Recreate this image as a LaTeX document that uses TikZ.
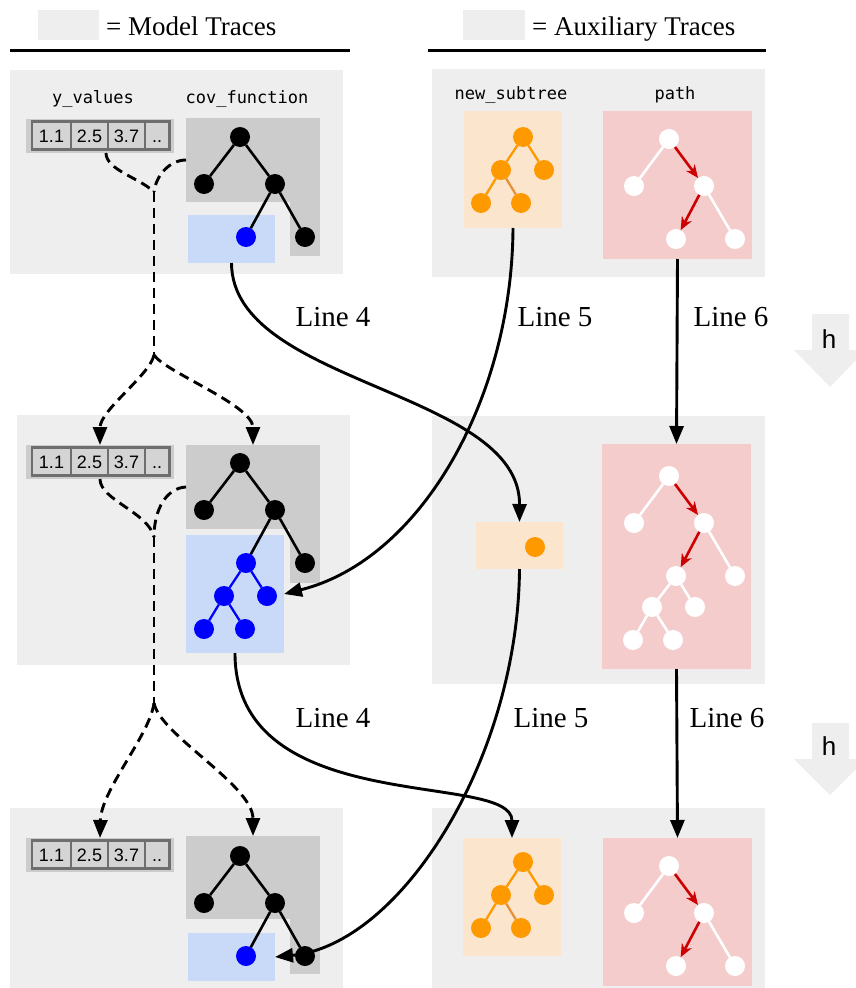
\documentclass[tikz,border=0pt]{standalone}
\usepackage{fontspec}
\setmainfont{Liberation Serif}
\newfontfamily\monof{DejaVu Sans Mono}
\newfontfamily\sansf{Liberation Sans}
\usetikzlibrary{arrows.meta}
\definecolor{panel}{HTML}{EEEEEE}
\definecolor{gbox}{HTML}{CCCCCC}
\definecolor{bbox}{HTML}{C9DAF8}
\definecolor{bnode}{HTML}{0000FF}
\definecolor{obox}{HTML}{FCE5CD}
\definecolor{onode}{HTML}{FF9900}
\definecolor{oedgetwo}{HTML}{E69138}
\definecolor{pbox}{HTML}{F4CCCC}
\definecolor{redarr}{HTML}{CC0000}
\definecolor{cellfill}{HTML}{D4D4D4}
\definecolor{cellline}{HTML}{6E6E6E}
\tikzset{
  rbox/.style={rectangle, inner sep=0pt, outer sep=0pt, anchor=north west, draw=none},
  dotn/.style={circle, inner sep=0pt, outer sep=0pt, minimum size=20pt},
  kdot/.style={dotn, fill=black},
  bdot/.style={dotn, fill=bnode},
  odot/.style={dotn, fill=onode},
  wdot/.style={dotn, fill=white},
  kedge/.style={black, line width=2.6pt},
  bedge/.style={bnode, line width=2.3pt},
  oedge/.style={onode, line width=2.3pt},
  oedgeb/.style={oedgetwo, line width=2.3pt},
  wedge/.style={white, line width=2.6pt},
  redge/.style={redarr, line width=2.6pt, -{Stealth[length=13pt,width=11pt,inset=4pt]}},
  flow/.style={black, line width=2.9pt, -{Triangle[length=18pt,width=14pt]}},
  dline/.style={black, line width=2.9pt, dash pattern=on 10pt off 6pt},
  dflow/.style={dline, -{Triangle[length=18pt,width=14pt]}},
  celltxt/.style={inner sep=0pt, anchor=base, font=\sansf\fontsize{18}{20}\selectfont},
  mono/.style={inner sep=0pt, anchor=base, font=\monof\fontsize{17}{20}\selectfont},
  lbl/.style={inner sep=0pt, anchor=base, font=\fontsize{29}{32}\selectfont},
  legtxt/.style={inner sep=0pt, anchor=base west, font=\fontsize{27}{30}\selectfont},
  htxt/.style={inner sep=0pt, anchor=base, font=\sansf\fontsize{26}{28}\selectfont},
}
\newcommand\yvals[2]{%
  \node[rbox, fill=gbox, minimum width=148pt, minimum height=34pt] (#1) at (26,#2) {};
  \begin{scope}[shift={(0,#2)}]
    \draw[cellline, fill=cellfill, line width=2.5pt] (32,2.5) rectangle (169.5,30.5);
    \draw[cellline, line width=2.5pt] (71,2.5)--(71,30.5) (108,2.5)--(108,30.5) (145,2.5)--(145,30.5);
    \node[celltxt] (#1a) at (51.5,23) {1.1};
    \node[celltxt] (#1b) at (89.5,23) {2.5};
    \node[celltxt] (#1c) at (126.5,23) {3.7};
    \node[celltxt] (#1d) at (157,23) {..};
  \end{scope}}
\newcommand\covtree[2]{%
  \begin{scope}[shift={(0,#2)}]
    \node[kdot] (#1r) at (240,137) {};
    \node[kdot] (#1l) at (204,184) {};
    \node[kdot] (#1R) at (275,184) {};
    \node[kdot] (#1RR) at (305,237) {};
    \node[bdot] (#1b) at (246,237) {};
  \end{scope}
  \draw[kedge] (#1r)--(#1l) (#1r)--(#1R) (#1R)--(#1RR) (#1R)--(#1b);}
\newcommand\otree[2]{%
  \begin{scope}[shift={(0,#2)}]
    \node[odot] (#1r) at (523,137) {};
    \node[odot] (#1l) at (501,170) {};
    \node[odot] (#1R) at (544,170) {};
    \node[odot] (#1ll) at (481,203) {};
    \node[odot] (#1lr) at (521,203) {};
  \end{scope}
  \draw[oedge] (#1r)--(#1l) (#1r)--(#1R) (#1l)--(#1ll);
  \draw[oedgeb] (#1l)--(#1lr);}
\newcommand\ptree[2]{%
  \begin{scope}[shift={(0,#2)}]
    \node[wdot] (#1r) at (669,139) {};
    \node[wdot] (#1l) at (634,186) {};
    \node[wdot] (#1R) at (704,186) {};
    \node[wdot] (#1Rl) at (676,239) {};
    \node[wdot] (#1RR) at (735,239) {};
  \end{scope}
  \draw[wedge] (#1r)--(#1l) (#1R)--(#1RR);
  \draw[redge] (#1r)--(#1R);
  \draw[redge] (#1R)--(#1Rl);}
\begin{document}
\begin{tikzpicture}[x=1pt, y=-1pt]
\useasboundingbox (0,0) rectangle (855,988);
% legend
\fill[panel] (38,10) rectangle (99,40);
\node[legtxt] (legA) at (106,35) {= Model Traces};
\draw[line width=3pt] (10,50) -- (350,50);
\fill[panel] (463,10) rectangle (525,40);
\node[legtxt] (legB) at (532,35) {= Auxiliary Traces};
\draw[line width=3pt] (428,50) -- (766,50);

% ---------- top left
\fill[panel] (10,70) rectangle (343,274);
\node[mono] (tyv) at (93,103) {y\_values};
\node[mono] (tcf) at (247,103) {cov\_function};
\yvals{yvA}{119}
\node[rbox, fill=gbox, minimum width=134pt, minimum height=84pt] (cgA) at (186,118) {};
\fill[gbox] (290,201) rectangle (320,256);
\node[rbox, fill=bbox, minimum width=87pt, minimum height=48pt] (bbA) at (188,215) {};
\covtree{tA}{0}

% ---------- top right
\fill[panel] (432,69) rectangle (765,277);
\node[mono] (tns) at (511,99) {new\_subtree};
\node[mono] (tpa) at (675,99) {path};
\node[rbox, fill=obox, minimum width=98pt, minimum height=117pt] (obA) at (464,111) {};
\node[rbox, fill=pbox, minimum width=149pt, minimum height=148pt] (pbA) at (603,111) {};
\otree{oA}{0}
\ptree{pA}{0}

% ---------- middle left
\fill[panel] (17,415) rectangle (350,665);
\yvals{yvB}{445}
\node[rbox, fill=gbox, minimum width=134pt, minimum height=84pt] (cgB) at (186,445) {};
\fill[gbox] (290,528) rectangle (320,583);
\node[rbox, fill=bbox, minimum width=98pt, minimum height=118pt] (bbB) at (186,535) {};
\covtree{tB}{326}
\node[bdot] (tBbl) at (224,596) {};
\node[bdot] (tBbr) at (267,596) {};
\node[bdot] (tBbll) at (204,629) {};
\node[bdot] (tBblr) at (245,629) {};
\draw[bedge] (tBb)--(tBbl) (tBb)--(tBbr) (tBbl)--(tBbll) (tBbl)--(tBblr);

% ---------- middle right
\fill[panel] (432,416) rectangle (765,684);
\node[rbox, fill=obox, minimum width=87pt, minimum height=47pt] (obB) at (476,522) {};
\node[odot] (oBn) at (535,547) {};
\node[rbox, fill=pbox, minimum width=149pt, minimum height=225pt] (pbB) at (602,444) {};
\ptree{pB}{337}
\node[wdot] (pBa) at (652,607) {};
\node[wdot] (pBb) at (695,607) {};
\node[wdot] (pBc) at (633,640) {};
\node[wdot] (pBd) at (673,640) {};
\draw[wedge] (pBRl)--(pBa) (pBRl)--(pBb) (pBa)--(pBc) (pBa)--(pBd);

% ---------- bottom left
\fill[panel] (10,808) rectangle (343,988);
\yvals{yvC}{838}
\node[rbox, fill=gbox, minimum width=134pt, minimum height=83pt] (cgC) at (186,836) {};
\fill[gbox] (290,918) rectangle (320,974);
\node[rbox, fill=bbox, minimum width=87pt, minimum height=48pt] (bbC) at (188,933) {};
\covtree{tC}{719}

% ---------- bottom right
\fill[panel] (432,808) rectangle (765,988);
\node[rbox, fill=obox, minimum width=98pt, minimum height=118pt] (obC) at (463,838) {};
\node[rbox, fill=pbox, minimum width=149pt, minimum height=148pt] (pbC) at (603,838) {};
\otree{oC}{725}
\ptree{pC}{727}

% ---------- dashed data flow
\coordinate (j1) at (154,192);
\coordinate (j2) at (154,355);
\coordinate (j3) at (154,537);
\coordinate (j4) at (154,703);
\draw[dline] ([xshift=6pt]yvA.south) .. controls (106,170) and (140,178) .. (j1);
\draw[dline] (cgA.west) .. controls (170,160) and (156,175) .. (j1);
\draw[dline] (j1) -- (j2);
\draw[dflow] (j2) .. controls (150,375) and (100,410) .. (yvB.north);
\draw[dflow] (j2) .. controls (165,372) and (253,405) .. (cgB.north);
\draw[dline] (yvB.south) .. controls (100,500) and (148,512) .. (j3);
\draw[dline] (cgB.west) .. controls (166,488) and (154,510) .. (j3);
\draw[dline] (j3) -- (j4);
\draw[dflow] (j4) .. controls (150,735) and (101,790) .. (yvC.north);
\draw[dflow] (j4) .. controls (160,735) and (253,785) .. (cgC.north);

% ---------- line flows
\draw[flow] (bbA.south) .. controls (232,385) and (520,390) .. (obB.north);
\draw[flow] (obA.south) .. controls (512,400) and (420,560) .. (bbB.east);
\draw[flow] (pbA.south) -- (pbB.north);
\draw[flow] (bbB.south) .. controls (235,820) and (512,770) .. (obC.north);
\draw[flow] (obB.south) .. controls (518,760) and (400,945) .. (bbC.east);
\draw[flow] (pbB.south) -- (pbC.north);
\node[lbl] (l4a) at (333,326) {Line 4};
\node[lbl] (l5a) at (555,326) {Line 5};
\node[lbl] (l6a) at (731,326) {Line 6};
\node[lbl] (l4b) at (333,727) {Line 4};
\node[lbl] (l5b) at (551,727) {Line 5};
\node[lbl] (l6b) at (727,727) {Line 6};

% ---------- h arrows
\fill[panel] (812,314) -- (849,314) -- (849,350) -- (866,350) -- (830,387) -- (794,350) -- (812,350) -- cycle;
\node[htxt] (h1) at (829,348) {h};
\fill[panel] (812,723) -- (849,723) -- (849,759) -- (866,759) -- (830,795) -- (794,759) -- (812,759) -- cycle;
\node[htxt] (h2) at (829,755) {h};
\end{tikzpicture}
\end{document}
